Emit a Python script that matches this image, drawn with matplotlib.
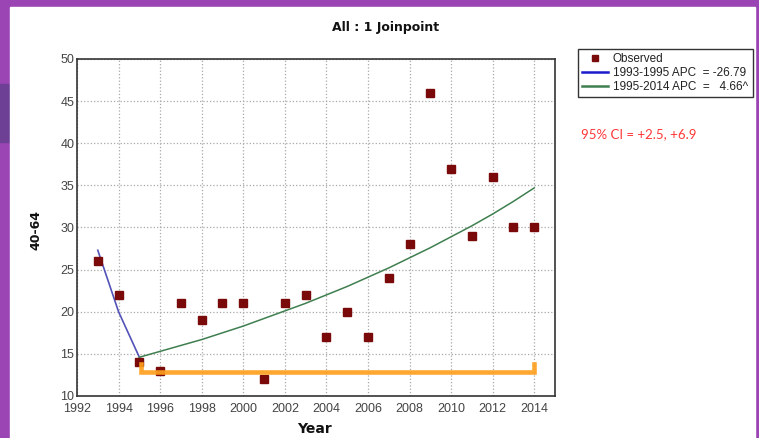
import matplotlib.pyplot as plt
from matplotlib.patches import Rectangle
from matplotlib.lines import Line2D

# observed rates, ages 40-64
years = [1993, 1994, 1995, 1996, 1997, 1998, 1999, 2000, 2001, 2002, 2003,
         2004, 2005, 2006, 2007, 2008, 2009, 2010, 2011, 2012, 2013, 2014]
observed = [26, 22, 14, 13, 21, 19, 21, 21, 12, 21, 22,
            17, 20, 17, 24, 28, 46, 37, 29, 36, 30, 30]

# joinpoint segment fits
seg1_years = [1993, 1994, 1995]
seg1_fit = [27.3, 20.0, 14.6]
seg2_years = [1995, 1996, 1997, 1998, 1999, 2000, 2001, 2002, 2003, 2004,
              2005, 2006, 2007, 2008, 2009, 2010, 2011, 2012, 2013, 2014]
seg2_fit = [14.6, 15.3, 16.0, 16.7, 17.5, 18.3, 19.2, 20.1, 21.0, 22.0,
            23.0, 24.1, 25.2, 26.4, 27.6, 28.9, 30.2, 31.6, 33.1, 34.7]

# baseline marker drawn over the plot
base_x = [1995.1, 1995.1, 2014, 2014]
base_y = [13.8, 12.9, 12.9, 13.8]

seg1_label = "1993-1995 APC  = -26.79"
seg2_label = "1995-2014 APC  =   4.66^"
ci_text = "95% CI = +2.5, +6.9"

W, H = 759, 438
fig = plt.figure(figsize=(W / 100, H / 100), dpi=100)
fig.patch.set_facecolor("#9b45b5")
fig.patches.append(Rectangle((0, 1 - 142 / H), 10 / W, 58 / H,
                             transform=fig.transFigure, color="#6e4095", zorder=-2))
fig.patches.append(Rectangle((10 / W, 0), 745 / W, 1 - 7 / H,
                             transform=fig.transFigure, color="white", zorder=-2))

ax = fig.add_axes([77 / W, 1 - 396 / H, 478 / W, 337 / H])
ax.set_zorder(1)
ax.plot(seg1_years, seg1_fit, color="#5252b8", lw=1.2, zorder=3)
ax.plot(seg2_years, seg2_fit, color="#3f7f4f", lw=1.1, zorder=3)
ax.plot(years, observed, ls="none", marker="s", ms=5.5, color="#7a0a0a",
        mec="#7a0a0a", zorder=4)
ax.plot(base_x, base_y, color="#ffa01e", lw=3.3, alpha=0.92,
        solid_joinstyle="miter", zorder=5)

ax.set_xlim(1992, 2015)
ax.set_ylim(10, 50)
ax.set_xticks(range(1992, 2015, 2))
ax.set_yticks(range(10, 51, 5))
ax.grid(True, color="#a8a8a8", ls=":", lw=0.9)
ax.tick_params(length=0, labelsize=9, labelcolor="#444444")
ax.tick_params(axis="x", pad=5)
ax.tick_params(axis="y", pad=2)
for lab in ax.get_xticklabels() + ax.get_yticklabels():
    lab.set_fontfamily("Liberation Sans")
for s in ax.spines.values():
    s.set_color("#333333")
    s.set_linewidth(1.2)

fig.text(386 / W, 1 - 27 / H, "All : 1 Joinpoint", ha="center", va="center",
         fontsize=9, fontweight="bold", color="#111111")
fig.text(36 / W, 1 - 230 / H, "40-64", ha="center", va="center", rotation=90,
         fontsize=9, fontweight="bold", color="#111111")
fig.text(314 / W, 1 - 429 / H, "Year", ha="center", va="center",
         fontsize=10, fontweight="bold", color="#111111")

handles = [
    Line2D([], [], ls="none", marker="s", ms=4, color="#7a0a0a"),
    Line2D([], [], color="#1a1acc", lw=1.8),
    Line2D([], [], color="#3f7f4f", lw=1.8),
]
leg = fig.legend(handles, ["Observed", seg1_label, seg2_label],
                 loc="upper left",
                 bbox_to_anchor=(578 / W, 1 - 100 / H, 175 / W, 51 / H),
                 mode="expand", borderaxespad=0, fancybox=False,
                 edgecolor="#333333", framealpha=1, handlelength=2.2,
                 handletextpad=0.4, labelspacing=0.15, borderpad=0.35,
                 prop={"family": "Liberation Sans", "size": 8.5})
leg.get_frame().set_linewidth(1.0)
for t in leg.get_texts():
    t.set_color("#222222")

fig.text(581 / W, 1 - 134 / H, ci_text, ha="left", va="center",
         fontsize=9.5, color="#ff3838", family="Lato")

fig.savefig("out.png", dpi=100)
